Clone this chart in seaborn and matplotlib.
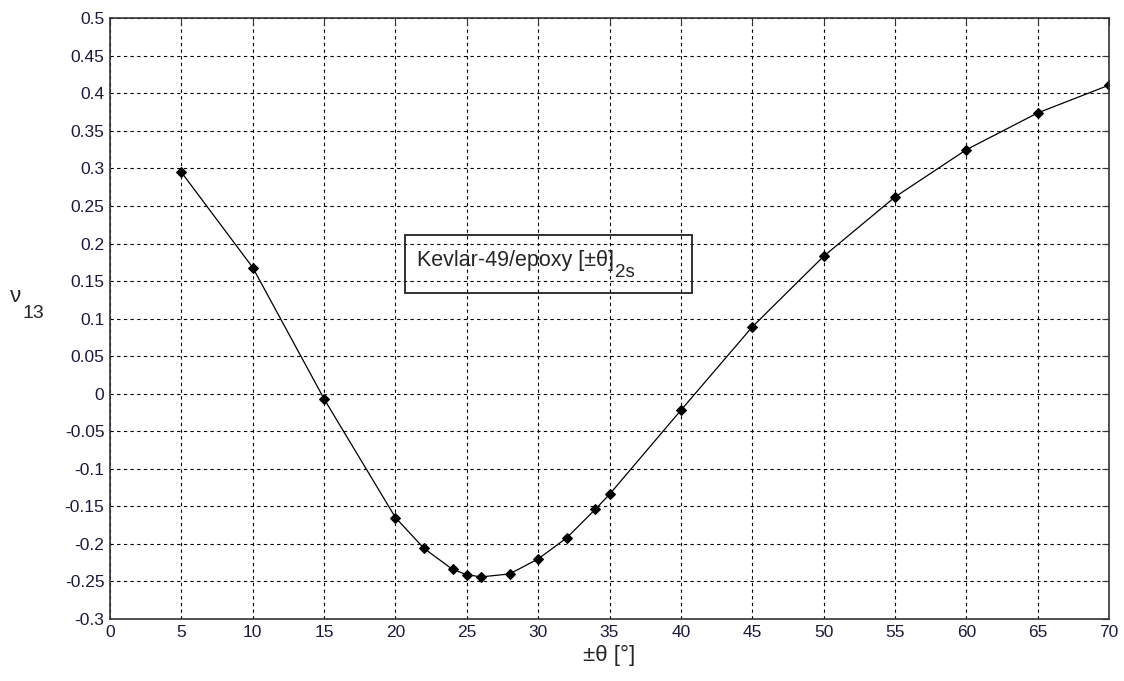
import matplotlib
matplotlib.use("Agg")
import matplotlib.pyplot as plt
from matplotlib.patches import Rectangle
import seaborn as sns
import pandas as pd
import numpy as np

# Poisson's ratio nu_13 vs ply angle for a Kevlar-49/epoxy [±theta]_2s laminate
theta = [5, 10, 15, 20, 22, 24, 25, 26, 28, 30, 32, 34, 35, 40, 45, 50, 55, 60, 65, 70]
nu13 = [0.295, 0.168, -0.007, -0.165, -0.206, -0.234, -0.241, -0.244, -0.240, -0.220,
        -0.192, -0.154, -0.134, -0.022, 0.089, 0.183, 0.262, 0.325, 0.374, 0.411]

x_ticks = list(range(0, 71, 5))
y_ticks = [round(v, 2) for v in np.arange(-0.3, 0.5001, 0.05)]

sns.set_style("white")
plt.rcParams["font.family"] = ["Liberation Sans", "DejaVu Sans"]

df = pd.DataFrame({"theta": theta, "nu13": nu13})

fig = plt.figure(figsize=(11.24, 6.81), dpi=100)
ax = fig.add_axes([0.0979, 0.0911, 0.8888, 0.8820])

sns.lineplot(data=df, x="theta", y="nu13", ax=ax, color="black", linewidth=0.9,
             marker="D", markersize=5, markeredgecolor="black", markerfacecolor="black")

ax.set_xlim(0, 70)
ax.set_ylim(-0.3, 0.5)
ax.set_xticks(x_ticks)
ax.set_xticklabels([str(t) for t in x_ticks])
ax.set_yticks(y_ticks)
ax.set_yticklabels([("%g" % v) if v != 0 else "0" for v in y_ticks])

ax.grid(True, color="black", linestyle=(0, (3, 3)), linewidth=0.8)
ax.set_axisbelow(True)
for s in ax.spines.values():
    s.set_color("#333333")
    s.set_linewidth(1.2)
ax.tick_params(direction="in", length=5, top=True, right=True, labelsize=12.5,
               labelcolor="#1a1a40", pad=4, color="#333333")

ax.set_xlabel("±θ [°]", fontsize=16, labelpad=4)
ax.set_ylabel("")

# y-axis symbol with its subscript
fig.text(0.009, 0.565, "ν", fontsize=16, ha="left", va="center")
fig.text(0.020, 0.540, "13", fontsize=14, ha="left", va="center")

# annotation box (outline only, grid shows through)
ax.add_patch(Rectangle((20.7, 0.134), 20.05, 0.077, fill=False,
                       edgecolor="#222222", linewidth=1.3, zorder=5))
main = ax.text(21.5, 0.170, "Kevlar-49/epoxy [±θ]", fontsize=15.5,
               ha="left", va="baseline", zorder=6)
fig.canvas.draw()
ext = main.get_window_extent(renderer=fig.canvas.get_renderer())
x_end = ax.transData.inverted().transform((ext.x1, ext.y0))[0]
ax.annotate("2s", xy=(x_end, 0.170), xytext=(0.5, -7.5), textcoords="offset points",
            fontsize=13.5, ha="left", va="baseline", zorder=6)

fig.savefig("out.png", dpi=100)
